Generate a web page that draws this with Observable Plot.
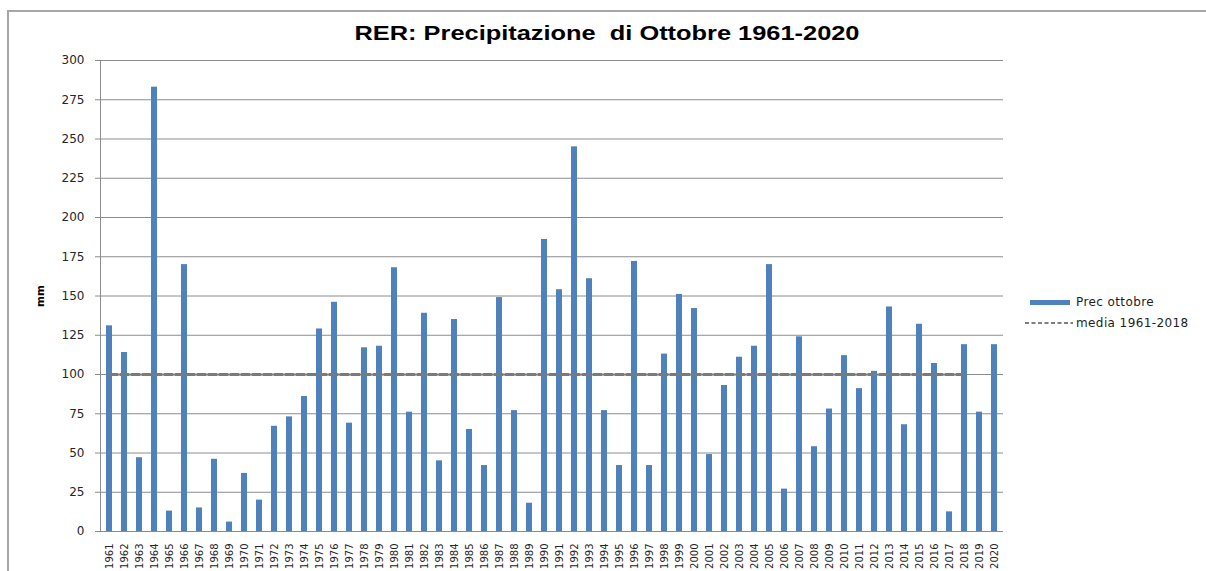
<!DOCTYPE html>
<html>
<head>
<meta charset="utf-8">
<script src="https://cdn.jsdelivr.net/npm/d3@7"></script>
<script src="https://cdn.jsdelivr.net/npm/@observablehq/plot@0.6"></script>
<style>
  html, body { margin: 0; padding: 0; background: #fff; }
  #wrap { position: relative; width: 1206px; height: 571px; overflow: hidden; background: #fff; }
  #border { position: absolute; left: 7px; top: 10px; width: 1400px; height: 800px; border-left: 2px solid #a6a6a6; border-top: 2px solid #a6a6a6; }
  #title { position: absolute; left: 607px; top: 20px; white-space: pre; transform-origin: 0 0;
           font-family: "Liberation Sans", Arial, sans-serif; font-weight: bold; font-size: 20.5px; line-height: 26px; color: #000; }
  #chart { position: absolute; left: 0; top: 50px; }
  #chart svg text { fill: #262626; }
  #chart svg [aria-label^="x-axis"] text { font-size: 10px; }
  #ylabel { position: absolute; left: 40px; top: 296px; transform: translate(-50%, -50%) rotate(-90deg);
            font-family: "DejaVu Sans", sans-serif; font-weight: bold; font-size: 10.5px; color: #000; }
  .leg { position: absolute; font-family: "DejaVu Sans", sans-serif; font-size: 12px; letter-spacing: 0.4px; color: #1e1e1e; white-space: pre; line-height: 14px; }
</style>
</head>
<body>
<div id="wrap">
  <div id="border"></div>
  <div id="title"></div>
  <div id="chart"></div>
  <div id="ylabel"></div>
  <div id="legend"></div>
</div>
<script>
const titleText = "RER: Precipitazione  di Ottobre 1961-2020";
const yAxisLabel = "mm";
const seriesName = "Prec ottobre";
const meanName = "media 1961-2018";

const years = ["1961","1962","1963","1964","1965","1966","1967","1968","1969","1970",
  "1971","1972","1973","1974","1975","1976","1977","1978","1979","1980",
  "1981","1982","1983","1984","1985","1986","1987","1988","1989","1990",
  "1991","1992","1993","1994","1995","1996","1997","1998","1999","2000",
  "2001","2002","2003","2004","2005","2006","2007","2008","2009","2010",
  "2011","2012","2013","2014","2015","2016","2017","2018","2019","2020"];

const precOttobre = [131,114,47,283,13,170,15,46,6,37,
  20,67,73,86,129,146,69,117,118,168,
  76,139,45,135,65,42,149,77,18,186,
  154,245,161,77,42,172,42,113,151,142,
  49,93,111,118,170,27,124,54,78,112,
  91,102,143,68,132,107,12.5,119,76,119];

const meanYears = ["1961","2018"];
const meanValue = [100,100];

const yTicks = [0,25,50,75,100,125,150,175,200,225,250,275,300];

const barColor = "#4F81BD";
const meanColor = "#7a7a7a";

const data = years.map((y, i) => ({year: y, value: precOttobre[i]}));
const meanData = meanYears.map((y, i) => ({year: y, value: meanValue[i]}));

const titleEl = document.getElementById("title");
titleEl.textContent = titleText;
const tw = titleEl.getBoundingClientRect().width;
const sx = 505 / tw;
titleEl.style.transform = `scaleX(${sx}) translateX(${-tw / 2}px)`;
document.getElementById("ylabel").textContent = yAxisLabel;

const chart = Plot.plot({
  width: 1206,
  height: 521,
  marginTop: 10,
  marginBottom: 40,
  marginLeft: 100,
  marginRight: 203,
  style: {fontFamily: "DejaVu Sans, sans-serif", fontSize: "12px", color: "#8c8c8c", background: "transparent", overflow: "visible"},
  x: {domain: years, paddingInner: 0.6, paddingOuter: 0.3, tickRotate: -90, tickSize: 0, tickPadding: 12, label: null},
  y: {domain: [0, 300], ticks: yTicks, tickSize: 5, tickPadding: 11, line: true, label: null},
  marks: [
    Plot.ruleY(yTicks, {stroke: "#8c8c8c", strokeWidth: 1}),
    Plot.barY(data, {x: "year", y: "value", fill: barColor}),
    Plot.lineY(meanData, {x: "year", y: "value", stroke: meanColor, strokeWidth: 3, strokeDasharray: "8,3"})
  ]
});
document.getElementById("chart").appendChild(chart);

const legend = document.getElementById("legend");
legend.innerHTML = `
  <div style="position:absolute;left:1030px;top:300px;width:40px;height:5px;background:${barColor}"></div>
  <div class="leg" style="left:1076px;top:295px">${seriesName}</div>
  <svg style="position:absolute;left:1024px;top:320px" width="50" height="6"><line x1="1" y1="3" x2="49" y2="3" stroke="#555" stroke-width="1.5" stroke-dasharray="4,2.5"/></svg>
  <div class="leg" style="left:1076px;top:316px">${meanName}</div>
`;
</script>
</body>
</html>
